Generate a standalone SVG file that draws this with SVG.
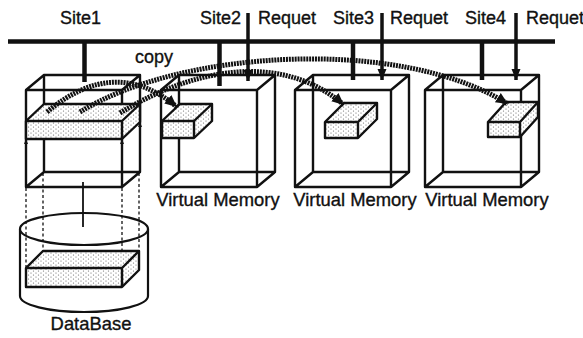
<svg xmlns="http://www.w3.org/2000/svg" width="583" height="338" viewBox="0 0 583 338">
<style>
text{font-family:"Liberation Sans",Arial,sans-serif;fill:#111;stroke:#111;stroke-width:0.35;}
.lbl{font-size:18px;}
.big{font-size:18.4px;}
.box{fill:none;stroke:#111;stroke-width:2.4;stroke-linejoin:round;}
.slab{fill:url(#dots);stroke:#111;stroke-width:2.4;stroke-linejoin:round;}
.thick{stroke:#111;stroke-width:4.5;fill:none;}
.req{stroke:#111;stroke-width:3.5;fill:none;marker-end:url(#reqHead);}
.copy{stroke:#111;stroke-width:5;fill:none;stroke-dasharray:2 0.9;marker-end:url(#copyHead);}
.dash{stroke:#111;stroke-width:1.3;fill:none;stroke-dasharray:3 2.5;}
.up{fill:#111;}
</style>
<defs>
<pattern id="dots" width="5" height="4" patternUnits="userSpaceOnUse">
<rect width="5" height="4" fill="#fff"/>
<circle cx="1" cy="1" r="0.6" fill="#666"/>
<circle cx="3.5" cy="3" r="0.6" fill="#666"/>
</pattern>
<marker id="reqHead" markerUnits="userSpaceOnUse" markerWidth="12" markerHeight="12" viewBox="0 0 12 12" refX="11" refY="6" orient="auto">
<path d="M0,1.5 L11,6 L0,10.5 Z" fill="#111"/>
</marker>
<marker id="copyHead" markerUnits="userSpaceOnUse" markerWidth="14" markerHeight="14" viewBox="0 0 14 14" refX="12" refY="7" orient="auto">
<path d="M0,1.5 L12,7 L0,12.5 Z" fill="#111"/>
</marker>
</defs>
<rect width="583" height="338" fill="#fff"/>

<g id="labels">
<text class="lbl" x="60" y="24">Site1</text>
<text class="lbl" x="200" y="24">Site2</text>
<text class="lbl" x="258" y="24">Requet</text>
<text class="lbl" x="333" y="24">Site3</text>
<text class="lbl" x="390" y="24">Requet</text>
<text class="lbl" x="465" y="24">Site4</text>
<text class="lbl" x="526" y="24">Requet</text>
<text class="lbl" x="135" y="63">copy</text>
</g>

<g id="database">
<path d="M20,229 L20,296 A64,16 0 0 0 148,296 L148,229" fill="#fff" stroke="#111" stroke-width="2.2"/>
<ellipse cx="84" cy="229" rx="64" ry="16" fill="#fff" stroke="#111" stroke-width="2.2"/>
<line x1="83" y1="182" x2="83" y2="227" stroke="#111" stroke-width="1.8"/>
<path class="dash" d="M26,188 V268 M43,173 V251 M122,188 V268 M139,173 V251"/>
<path class="slab" d="M26,268 L43,251 L139,251 L139,270 L122,287 L26,287 Z"/>
<path class="box" d="M26,268 H122 V287 M122,268 L139,251"/>
<text class="big" x="91" y="330" text-anchor="middle">DataBase</text>
</g>

<g id="site1">
<path class="box" d="M26,90 H122 V187 H26 Z M44,75 H140 V172 H44 Z M26,90 L44,75 M122,90 L140,75 M122,187 L140,172 M26,187 L44,172"/>
<path class="slab" d="M26,121 L44,104 L140,104 L140,122 L122,139 L26,139 Z"/>
<path class="box" d="M26,121 H122 V139 M122,121 L140,104"/>
<path class="up" d="M26,139 L24,144 L28,144 Z M122,139 L120,144 L124,144 Z M140,122 L138,127 L142,127 Z"/>
</g>

<g id="site2">
<path class="box" d="M161,90 H257 V187 H161 Z M179,75 H275 V172 H179 Z M161,90 L179,75 M257,90 L275,75 M257,187 L275,172 M161,187 L179,172"/>
<path class="slab" d="M162,121 L180,104 L212,104 L212,121 L194,138 L162,138 Z"/>
<path class="box" d="M162,121 H194 V138 M194,121 L212,104"/>
<text class="big" x="218" y="206" text-anchor="middle">Virtual Memory</text>
</g>

<g id="site3">
<path class="box" d="M295,90 H391 V187 H295 Z M313,75 H409 V172 H313 Z M295,90 L313,75 M391,90 L409,75 M391,187 L409,172 M295,187 L313,172"/>
<path class="slab" d="M325,122 L344,103 L377,103 L377,119 L358,138 L325,138 Z"/>
<path class="box" d="M325,122 H358 V138 M358,122 L377,103"/>
<text class="big" x="355" y="206" text-anchor="middle">Virtual Memory</text>
</g>

<g id="site4">
<path class="box" d="M425,90 H521 V187 H425 Z M443,75 H539 V172 H443 Z M425,90 L443,75 M521,90 L539,75 M521,187 L539,172 M425,187 L443,172"/>
<path class="slab" d="M488,122 L506,102 L538,102 L538,117 L520,137 L488,137 Z"/>
<path class="box" d="M488,122 H520 V137 M520,122 L538,102"/>
<text class="big" x="487" y="206" text-anchor="middle">Virtual Memory</text>
</g>

<g id="connectors">
<line class="thick" x1="8" y1="41.5" x2="555" y2="41.5"/>
<line class="thick" x1="84.5" y1="41" x2="84.5" y2="82"/>
<line class="thick" x1="219.5" y1="41" x2="219.5" y2="86"/>
<line class="thick" x1="353" y1="41" x2="353" y2="80"/>
<line class="thick" x1="482" y1="41" x2="482" y2="80"/>
<line class="req" x1="248" y1="13" x2="248" y2="81"/>
<line class="req" x1="382" y1="13" x2="382" y2="80"/>
<line class="req" x1="516" y1="13" x2="516" y2="80"/>
<path class="copy" d="M47,112 Q115,55 177,107"/>
<path class="copy" d="M80,112 C180,50 400,36 508,104"/>
<path class="copy" d="M120,113 C190,70 280,50 344,105"/>
</g>
</svg>
